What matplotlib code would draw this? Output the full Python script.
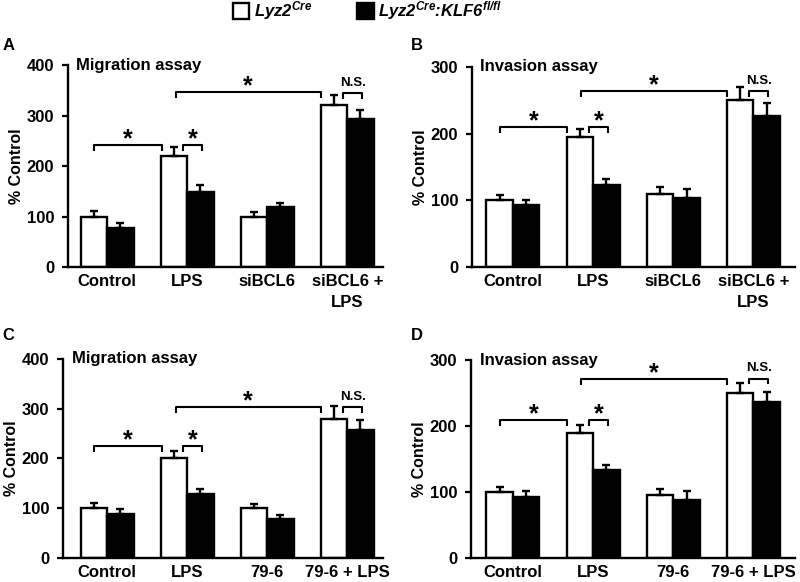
import numpy as np
import matplotlib
matplotlib.use('Agg')
import matplotlib.pyplot as plt
from matplotlib.patches import Rectangle

plt.rcParams['font.family'] = ['Liberation Sans', 'DejaVu Sans']
plt.rcParams['font.weight'] = 'bold'
plt.rcParams['mathtext.fontset'] = 'custom'
plt.rcParams['mathtext.rm'] = 'Liberation Sans:italic:bold'
plt.rcParams['mathtext.it'] = 'Liberation Sans:italic:bold'
plt.rcParams['mathtext.bf'] = 'Liberation Sans:italic:bold'

# data
labels_ab = ['Control', 'LPS', 'siBCL6', 'siBCL6 +\nLPS']
labels_cd = ['Control', 'LPS', '79-6', '79-6 + LPS']

a_wt = [100, 220, 100, 320]
a_wt_err = [10, 18, 9, 20]
a_ko = [78, 148, 118, 293]
a_ko_err = [10, 14, 9, 17]

b_wt = [100, 195, 110, 250]
b_wt_err = [8, 12, 10, 20]
b_ko = [93, 123, 103, 226]
b_ko_err = [8, 9, 14, 20]

c_wt = [100, 200, 100, 280]
c_wt_err = [10, 15, 9, 25]
c_ko = [88, 128, 78, 258]
c_ko_err = [10, 10, 8, 20]

d_wt = [100, 190, 95, 250]
d_wt_err = [8, 12, 10, 15]
d_ko = [93, 133, 88, 236]
d_ko_err = [8, 8, 14, 15]

# bracket heights: control-LPS, LPS wt-ko, LPS-combo, combo N.S.
a_sig = [242, 242, 346, 345]
b_sig = [210, 210, 264, 264]
c_sig = [225, 225, 303, 303]
d_sig = [209, 209, 271, 272]

W = 0.33


def bracket(ax, x1, x2, y, h, text, small=False):
    ax.plot([x1, x1, x2, x2], [y - h, y, y, y - h], color='black', lw=1.5,
            solid_capstyle='butt', clip_on=False)
    if small:
        ax.annotate(text, xy=((x1 + x2) / 2, y), xytext=(0, 3), textcoords='offset points',
                    ha='center', va='bottom', fontsize=9.5, fontweight='bold')
    else:
        ax.annotate(text, xy=((x1 + x2) / 2, y), xytext=(0, -1), textcoords='offset points',
                    ha='center', va='baseline', fontsize=18, fontweight='bold')


def panel(rect, xlim, ymax, labels, wt, wt_err, ko, ko_err, sig, title):
    ax = fig.add_axes(rect)
    x = np.arange(len(labels))
    ax.bar(x - W / 2, wt, W, color='white', edgecolor='black', linewidth=1.7, zorder=2)
    ax.bar(x + W / 2, ko, W, color='black', edgecolor='black', linewidth=1.7, zorder=2)
    ax.errorbar(x - W / 2, wt, yerr=[np.zeros(4), wt_err], fmt='none', ecolor='black',
                elinewidth=1.7, capsize=3.2, capthick=1.7, zorder=3)
    ax.errorbar(x + W / 2, ko, yerr=[np.zeros(4), ko_err], fmt='none', ecolor='black',
                elinewidth=1.7, capsize=3.2, capthick=1.7, zorder=3)
    ax.set_xlim(*xlim)
    ax.set_ylim(0, ymax)
    ax.set_yticks(np.arange(0, ymax + 1, 100))
    ax.set_xticks(x)
    ax.set_xticklabels(labels, fontsize=12, fontweight='bold', linespacing=1.5)
    ax.tick_params(axis='x', length=0, pad=5)
    ax.tick_params(axis='y', length=4, width=1.6, labelsize=12, pad=6)
    for t in ax.get_yticklabels():
        t.set_fontweight('bold')
    for s in ['top', 'right']:
        ax.spines[s].set_visible(False)
    for s in ['left', 'bottom']:
        ax.spines[s].set_linewidth(1.7)
    ax.set_ylabel('% Control', fontsize=11.5, fontweight='bold', labelpad=2)
    ax.annotate(title, xy=(0, 1), xycoords='axes fraction', xytext=(6, 0),
                textcoords='offset points', ha='left', va='center',
                fontsize=12, fontweight='bold')
    h = ymax * 0.03
    bracket(ax, -W / 2, 1 - W + 0.01, sig[0], h, '*')
    bracket(ax, 1 - 0.05, 1 + W / 2 + 0.02, sig[1], h, '*')
    bracket(ax, 1 - W / 2 + 0.02, 3 - W, sig[2], h, '*')
    bracket(ax, 3 - 0.05, 3 + W / 2 + 0.02, sig[3], h, 'N.S.', small=True)
    return ax


fig = plt.figure(figsize=(8, 5.82), dpi=100)

panel([0.085, 0.5412, 0.394, 0.3471], (-0.49, 3.45), 400, labels_ab,
      a_wt, a_wt_err, a_ko, a_ko_err, a_sig, 'Migration assay')
panel([0.59, 0.5412, 0.404, 0.3437], (-0.51, 3.52), 300, labels_ab,
      b_wt, b_wt_err, b_ko, b_ko_err, b_sig, 'Invasion assay')
panel([0.079, 0.0412, 0.400, 0.3420], (-0.55, 3.45), 400, labels_cd,
      c_wt, c_wt_err, c_ko, c_ko_err, c_sig, 'Migration assay')
panel([0.589, 0.0412, 0.405, 0.3402], (-0.52, 3.52), 300, labels_cd,
      d_wt, d_wt_err, d_ko, d_ko_err, d_sig, 'Invasion assay')

for lab, x, y in [('A', 0.003, 1 - 46 / 582), ('B', 0.513, 1 - 46 / 582),
                  ('C', 0.003, 1 - 335 / 582), ('D', 0.513, 1 - 335 / 582)]:
    fig.text(x, y, lab, fontsize=12, fontweight='bold', va='center', ha='left')

# legend
fig.patches.append(Rectangle((233 / 800, 1 - 19 / 582), 16 / 800, 16 / 582,
                             transform=fig.transFigure, facecolor='white',
                             edgecolor='black', linewidth=1.7))
fig.patches.append(Rectangle((357 / 800, 1 - 19 / 582), 17 / 800, 16 / 582,
                             transform=fig.transFigure, facecolor='black',
                             edgecolor='black', linewidth=1.7))
fig.text(254 / 800, 1 - 11 / 582, r'$Lyz2^{Cre}$', fontsize=12, va='center', ha='left')
fig.text(378 / 800, 1 - 11 / 582, r'$Lyz2^{Cre}$:$KLF6^{fl/fl}$', fontsize=12,
         fontstyle='italic', va='center', ha='left')

fig.savefig('out.png', dpi=100)
